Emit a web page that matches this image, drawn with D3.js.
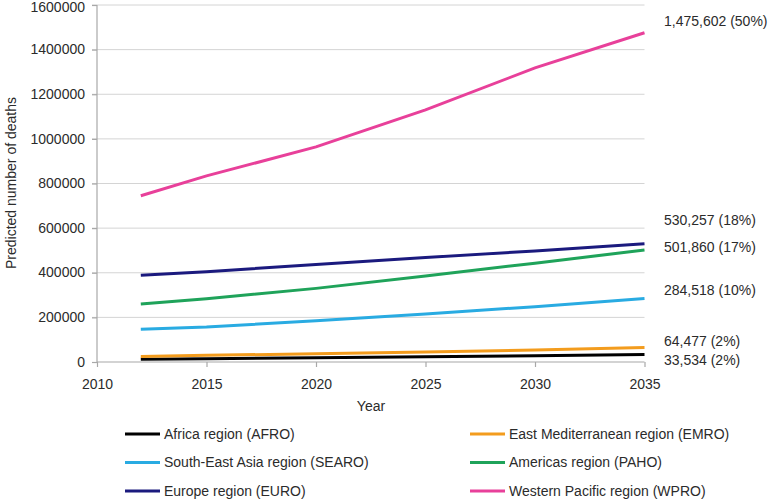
<!DOCTYPE html>
<html><head><meta charset="utf-8">
<script src="https://cdn.jsdelivr.net/npm/d3@7"></script>
<style>body{margin:0;background:#fff}svg{display:block;font-family:"Liberation Sans",Arial,sans-serif}</style>
</head><body>
<script>
const years = [2012, 2015, 2020, 2025, 2030, 2035];
const seriesNames = ["Africa region (AFRO)", "East Mediterranean region (EMRO)", "South-East Asia region (SEARO)", "Americas region (PAHO)", "Europe region (EURO)", "Western Pacific region (WPRO)"];
const seriesColors = ["#000000", "#f39c1d", "#29abe2", "#1fa35a", "#1b1a7e", "#e8409a"];
const afro = [12000, 15000, 19000, 23000, 28000, 33534];
const emro = [25000, 30000, 37000, 45000, 54000, 64477];
const searo = [147000, 157000, 185000, 215000, 248000, 284518];
const paho = [260000, 283000, 330000, 385000, 443000, 501860];
const euro = [389000, 405000, 437000, 468000, 498000, 530257];
const wpro = [745000, 834000, 964000, 1130000, 1318000, 1475602];
const endLabels = ["33,534 (2%)", "64,477 (2%)", "284,518 (10%)", "501,860 (17%)", "530,257 (18%)", "1,475,602 (50%)"];
const labelOffsets = [6, -7, -8, -3, -24, -12];
const yTicks = [0, 200000, 400000, 600000, 800000, 1000000, 1200000, 1400000, 1600000];
const xTicks = [2010, 2015, 2020, 2025, 2030, 2035];

const allValues = [afro, emro, searo, paho, euro, wpro];
const W = 771, H = 502;
const FS = 14, TXT = "#2b2b2b";
const svg = d3.select("body").append("svg").attr("width", W).attr("height", H);
const x = d3.scaleLinear().domain([2010, 2035]).range([97, 644.5]);
const y = d3.scaleLinear().domain([0, 1600000]).range([362, 5]);

// gridlines
svg.append("g").selectAll("line").data(yTicks.filter(d => d > 0)).join("line")
  .attr("x1", 92).attr("x2", 644.5).attr("y1", d => y(d)).attr("y2", d => y(d))
  .attr("stroke", "#d4d4d4").attr("stroke-width", 1);

const yAxis = svg.append("g").attr("transform", "translate(97,0)")
  .call(d3.axisLeft(y).tickValues(yTicks).tickFormat(d3.format("d")).tickSize(5).tickPadding(7));
const xAxis = svg.append("g").attr("transform", "translate(0,362)")
  .call(d3.axisBottom(x).tickValues(xTicks).tickFormat(d3.format("d")).tickSize(5).tickPadding(12));
[yAxis, xAxis].forEach(a => {
  a.selectAll("path").attr("stroke", "#a8a8a8").attr("stroke-width", 1.2);
  a.selectAll("line").attr("stroke", "#a8a8a8").attr("stroke-width", 1.2);
  a.selectAll("text").attr("fill", TXT).attr("font-size", FS);
});
yAxis.select(".domain").attr("d", "M0,362V5");
xAxis.select(".domain").attr("d", "M97,0H644.5");
yAxis.selectAll(".tick text").attr("dy", d => d === 1600000 ? "0.45em" : "0.3em");

const line = d3.line().x((d, i) => x(years[i])).y(d => y(d));
svg.append("g").selectAll("path").data(allValues).join("path")
  .attr("d", d => line(d)).attr("fill", "none")
  .attr("stroke", (d, i) => seriesColors[i]).attr("stroke-width", 3);

svg.append("g").selectAll("text").data(allValues).join("text")
  .attr("x", 664).attr("y", (d, i) => y(d[d.length - 1]) + labelOffsets[i])
  .attr("dy", "0.35em").attr("font-size", FS).attr("fill", TXT)
  .text((d, i) => endLabels[i]);

svg.append("text").attr("transform", "translate(16,183) rotate(-90)")
  .attr("text-anchor", "middle").attr("font-size", FS).attr("fill", TXT)
  .text("Predicted number of deaths");
svg.append("text").attr("x", 371).attr("y", 411).attr("text-anchor", "middle")
  .attr("font-size", FS).attr("fill", TXT).text("Year");

// legend
const legendOrder = [0, 1, 2, 3, 4, 5];
const lg = svg.append("g").selectAll("g").data(legendOrder).join("g")
  .attr("transform", (d, k) => `translate(${k % 2 === 0 ? 125 : 470},${434 + Math.floor(k / 2) * 28.5})`);
lg.append("line").attr("x1", 0).attr("x2", 35).attr("stroke", d => seriesColors[d]).attr("stroke-width", 3);
lg.append("text").attr("x", 39).attr("dy", "0.35em").attr("font-size", FS).attr("fill", TXT)
  .text(d => seriesNames[d]);
</script>
</body></html>
